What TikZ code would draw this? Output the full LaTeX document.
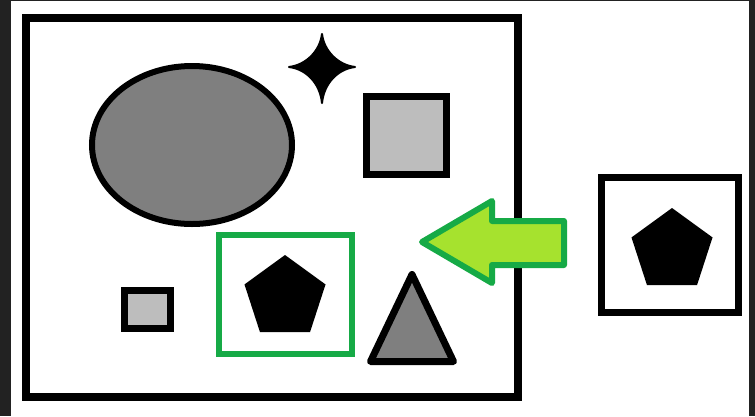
\documentclass[tikz,border=0pt]{standalone}
\usepackage{tikz}
\usetikzlibrary{shapes.geometric}

\definecolor{backdrop}{HTML}{222222}
\definecolor{darkfill}{HTML}{7F7F7F}
\definecolor{lightfill}{HTML}{BDBDBD}
\definecolor{markgreen}{RGB}{22,170,70}
\definecolor{arrowlime}{RGB}{166,226,46}

\begin{document}
\begin{tikzpicture}[
    x=1pt, y=-1pt,
    % Shape styles
    frame/.style={draw=black, line width=8pt, inner sep=0pt},
    box/.style={draw=black, line width=7pt, fill=lightfill, inner sep=0pt},
    blob/.style={ellipse, draw=black, line width=6pt, fill=darkfill, inner sep=0pt},
    pent/.style={regular polygon, regular polygon sides=5, fill=black, inner sep=0pt, minimum size=85.2pt},
    found/.style={draw=markgreen, line width=6pt, inner sep=0pt},
]

    % Backdrop
    \useasboundingbox (0,0) rectangle (755,416);
    \fill[backdrop] (0,0) rectangle (755,416);
    \fill[white] (11,1) rectangle (749,416);

    % Scene on the left
    \node[frame, minimum width=491.5pt, minimum height=378.5pt] (scene) at (271.75,207.25) {};
    \node[blob, minimum width=200pt, minimum height=158pt] (oval) at (192,145) {};
    \node[box, minimum width=80pt, minimum height=78pt] (bigsq) at (406.5,135.5) {};
    \node[box, minimum width=46pt, minimum height=38pt] (smallsq) at (147.5,309.5) {};
    \node[found, minimum width=133pt, minimum height=119pt] (hit) at (285.5,294.5) {};
    \node[pent] (pentA) at (285,297.6) {};

    % Four pointed star
    \filldraw[black, line width=2pt, line join=round]
        (322,34) .. controls (324,51) and (338,65) .. (355,67)
        .. controls (338,69) and (324,83) .. (322,103)
        .. controls (320,83) and (306,69) .. (289,67)
        .. controls (306,65) and (320,51) .. cycle;

    % Triangle
    \draw[black, line width=7pt, line join=round, fill=darkfill]
        (412,274.5) -- (453.5,361.5) -- (370.5,361.5) -- cycle;

    % Template on the right
    \node[frame, line width=7pt, minimum width=137pt, minimum height=135pt] (query) at (670,245) {};
    \node[pent] (pentB) at (672,250.6) {};

    % Search arrow
    \draw[markgreen, line width=6pt, line join=round, fill=arrowlime]
        (422,242) -- (492,201) -- (492,221) -- (564,221)
        -- (564,265) -- (492,265) -- (492,283) -- cycle;

\end{tikzpicture}
\end{document}
